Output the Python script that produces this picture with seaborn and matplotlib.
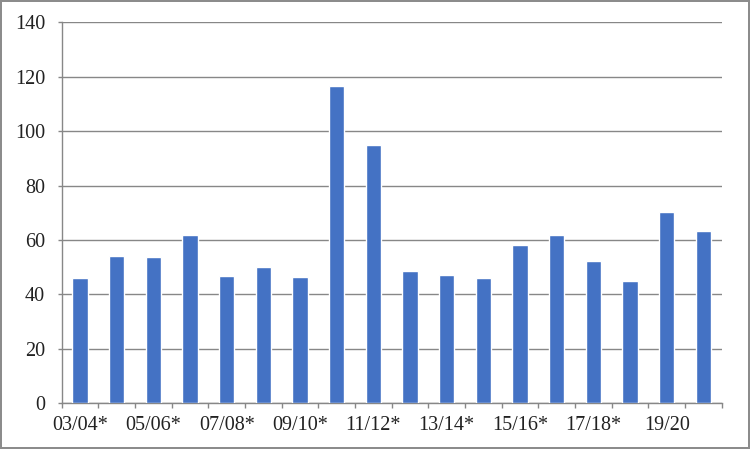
import matplotlib
matplotlib.use("Agg")
import matplotlib.pyplot as plt
import seaborn as sns
import pandas as pd
from matplotlib.ticker import FixedLocator, MultipleLocator

seasons = ["03/04*", "04/05", "05/06*", "06/07", "07/08*", "08/09", "09/10*", "10/11",
           "11/12*", "12/13", "13/14*", "14/15", "15/16*", "16/17", "17/18*", "18/19",
           "19/20", "20/21"]
values = [46.0, 54.1, 53.8, 61.9, 46.8, 50.1, 46.4, 116.6, 94.9, 48.6, 47.1, 46.0,
          58.2, 61.9, 52.4, 44.9, 70.3, 63.3]
shown_labels = ["03/04*", "05/06*", "07/08*", "09/10*", "11/12*", "13/14*", "15/16*",
                "17/18*", "19/20"]

sns.set_style("white")
plt.rcParams['font.family'] = ['Liberation Serif', 'DejaVu Serif']

df = pd.DataFrame({"season": seasons, "value": values})

fig = plt.figure(figsize=(7.5, 4.49), dpi=100)
fig.patch.set_edgecolor("#8c8c8c")
fig.patch.set_linewidth(1.5)
ax = fig.add_axes([61.7 / 750, (449 - 403.3) / 449, 660 / 750, 381 / 449])

sns.barplot(data=df, x="season", y="value", order=seasons, color="#4472C4",
            width=0.42, saturation=1, ax=ax, zorder=3)

grid_c = "#878787"
ax.set_ylim(0, 140)
ax.set_xlim(-0.5, len(seasons) - 0.5)
ax.yaxis.set_major_locator(MultipleLocator(20))
ax.grid(axis="y", color=grid_c, linewidth=1, zorder=0)
ax.set_axisbelow(True)

pos = [seasons.index(s) for s in shown_labels]
ax.set_xticks(pos)
ax.set_xticklabels(shown_labels)
ax.xaxis.set_minor_locator(FixedLocator([i - 0.5 for i in range(len(seasons) + 1)]))
ax.tick_params(axis="x", which="major", length=0, pad=9, labelsize=14.5, colors="#222222")
ax.tick_params(axis="x", which="minor", length=3.6, width=1, color=grid_c, bottom=True)
ax.tick_params(axis="y", which="major", length=3, width=1, color=grid_c, left=True,
               pad=9, labelsize=14.5, labelcolor="#222222")

for s in ["top", "right"]:
    ax.spines[s].set_visible(False)
for s in ["left", "bottom"]:
    ax.spines[s].set_color(grid_c)
    ax.spines[s].set_linewidth(1)

ax.set_xlabel("")
ax.set_ylabel("")

fig.savefig("out.png", dpi=100, edgecolor=fig.get_edgecolor())
